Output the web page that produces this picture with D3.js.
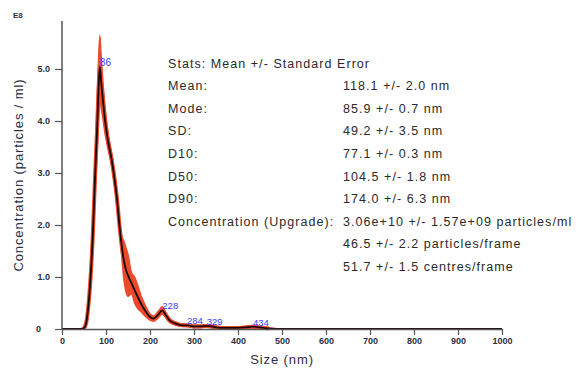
<!DOCTYPE html>
<html>
<head>
<meta charset="utf-8">
<script src="https://cdn.jsdelivr.net/npm/d3@7"></script>
<style>
  body { margin: 0; background: #fff; }
  svg { display: block; font-family: "Liberation Sans", Arial, sans-serif; }
</style>
</head>
<body>
<div id="chart"></div>
<script>
const width = 587;
const height = 371;

// Particle size (nm), mean concentration (E8 particles/ml), standard error
const sizes = [0, 40, 50, 55, 60, 65, 70, 75, 80, 83, 86, 89, 93, 98, 105, 113, 120, 125, 130, 135, 140, 145, 150, 158, 165, 172, 180, 190, 200, 208, 218, 228, 235, 245, 260, 275, 284, 300, 315, 329, 345, 365, 390, 415, 434, 450, 470, 500, 550, 1000];
const meanConc = [0, 0, 0.02, 0.12, 0.45, 1.0, 1.8, 2.9, 3.9, 4.6, 5.04, 4.75, 4.4, 4.0, 3.6, 3.25, 2.85, 2.5, 2.05, 1.65, 1.35, 1.15, 1.03, 0.88, 0.75, 0.62, 0.48, 0.34, 0.23, 0.2, 0.27, 0.36, 0.28, 0.16, 0.1, 0.07, 0.07, 0.05, 0.05, 0.06, 0.04, 0.02, 0.02, 0.03, 0.045, 0.03, 0.01, 0, 0, 0];
const stdErr = [0, 0, 0.01, 0.05, 0.1, 0.15, 0.2, 0.3, 0.45, 0.55, 0.6, 0.5, 0.35, 0.25, 0.15, 0.12, 0.12, 0.1, 0.1, 0.15, 0.35, 0.42, 0.4, 0.2, 0.25, 0.22, 0.15, 0.1, 0.06, 0.05, 0.06, 0.07, 0.05, 0.04, 0.03, 0.02, 0.02, 0.02, 0.02, 0.02, 0.02, 0.01, 0.01, 0.01, 0.02, 0.01, 0.01, 0, 0, 0];

const peakSizes = [86, 228, 284, 329, 434];

const xTicks = [0, 100, 200, 300, 400, 500, 600, 700, 800, 900, 1000];
const yTicks = [0, 1, 2, 3, 4, 5];

const statLabels = ["Mean:", "Mode:", "SD:", "D10:", "D50:", "D90:", "Concentration (Upgrade):", "", ""];
const statValues = ["118.1 +/- 2.0 nm", "85.9 +/- 0.7 nm", "49.2 +/- 3.5 nm", "77.1 +/- 0.3 nm", "104.5 +/- 1.8 nm", "174.0 +/- 6.3 nm", "3.06e+10 +/- 1.57e+09 particles/ml", "46.5 +/- 2.2 particles/frame", "51.7 +/- 1.5 centres/frame"];

const data = sizes.map((s, i) => ({size: s, mean: meanConc[i], err: stdErr[i]}));

const svg = d3.select("#chart").append("svg")
  .attr("width", width)
  .attr("height", height);

const x = d3.scaleLinear().domain([0, 1000]).range([62, 502]);
const y = d3.scaleLinear().domain([0, 5]).range([329, 69]);

const meanLine = d3.line()
  .x(d => x(d.size))
  .y(d => y(d.mean))
  .curve(d3.curveMonotoneX);

// Error band
svg.append("path")
  .datum(data)
  .attr("fill", "#ec4a2c")
  .attr("stroke", "#ec4a2c")
  .attr("stroke-width", 1.5)
  .attr("d", d3.area()
    .x(d => x(d.size))
    .y0(d => y(Math.max(0, d.mean - d.err)))
    .y1(d => y(d.mean + d.err))
    .curve(d3.curveMonotoneX));

svg.append("path")
  .datum(data.filter(d => d.size > 45 && d.size < 480))
  .attr("fill", "none")
  .attr("stroke", "#ec4a2c")
  .attr("stroke-width", 4)
  .attr("d", meanLine);

// Mean line
svg.append("path")
  .datum(data)
  .attr("fill", "none")
  .attr("stroke", "#1a0505")
  .attr("stroke-width", 1.8)
  .attr("d", meanLine);

// Axes
const xAxis = svg.append("g")
  .attr("transform", "translate(0,329)")
  .call(d3.axisBottom(x).tickValues(xTicks).tickSize(6).tickSizeOuter(0).tickPadding(3)
    .tickFormat(d3.format("d")));

const yAxis = svg.append("g")
  .attr("transform", "translate(62,0)")
  .call(d3.axisLeft(y).tickValues(yTicks).tickSize(7).tickSizeOuter(0).tickPadding(5)
    .tickFormat(d => d === 0 ? "0" : d3.format(".1f")(d)));

yAxis.select(".domain").attr("d", "M0,21V329");

[xAxis, yAxis].forEach(g => {
  g.select(".domain").attr("stroke", "#555").attr("stroke-width", 1.5);
  g.selectAll(".tick line").attr("stroke", "#555").attr("stroke-width", 1.2);
  g.selectAll(".tick text")
    .attr("fill", "#2b2f45")
    .style("font-size", "9px")
    .style("font-weight", "bold");
});
yAxis.selectAll(".tick text").filter(d => d === 0).attr("dx", -9);

// Peak labels
peakSizes.forEach((p, k) => {
  const i = sizes.indexOf(p);
  svg.append("text")
    .attr("x", x(p))
    .attr("y", y(meanConc[i]) - 1)
    .attr("fill", "#3a3aff")
    .style("font-size", k === 0 ? "10px" : "9.5px")
    .text(p);
});

// Axis titles
svg.append("text")
  .attr("transform", "translate(23,175) rotate(-90)")
  .attr("text-anchor", "middle")
  .attr("fill", "#2b2f45")
  .style("font-size", "13px")
  .style("letter-spacing", "0.9px")
  .text("Concentration (particles / ml)");

svg.append("text")
  .attr("x", 282)
  .attr("y", 364)
  .attr("text-anchor", "middle")
  .attr("fill", "#2b2f45")
  .style("font-size", "13px")
  .style("letter-spacing", "0.9px")
  .text("Size (nm)");

svg.append("text")
  .attr("x", 13)
  .attr("y", 18)
  .attr("fill", "#2b2f45")
  .style("font-size", "8px")
  .style("font-weight", "bold")
  .text("E8");

// Stats block
const stats = svg.append("g")
  .style("font-size", "12.5px")
  .style("letter-spacing", "1.05px")
  .attr("fill", "#2a2a2a");
stats.append("text").attr("x", 168).attr("y", 67.5).text("Stats: Mean +/- Standard Error");
statLabels.forEach((t, i) => {
  stats.append("text").attr("x", 168).attr("y", 90.2 + i * 22.6).text(t);
});
statValues.forEach((t, i) => {
  stats.append("text").attr("x", 343).attr("y", 90.2 + i * 22.6).text(t);
});
</script>
</body>
</html>
